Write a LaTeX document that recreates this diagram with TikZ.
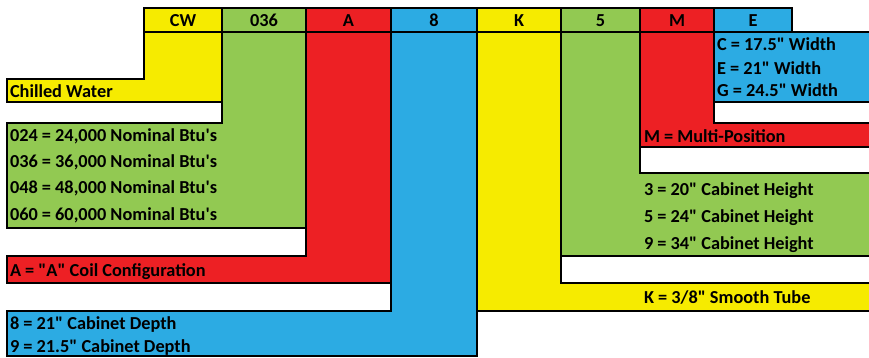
\documentclass[tikz,border=0pt]{standalone}
\usepackage{fontspec}
\setmainfont{Carlito}[Ligatures=TeXOff]
\usepackage{tikz}
\usetikzlibrary{positioning}
\definecolor{codeyellow}{RGB}{246,235,0}
\definecolor{codegreen}{RGB}{146,201,82}
\definecolor{codered}{RGB}{237,32,36}
\definecolor{codeblue}{RGB}{44,171,227}

\begin{document}
\begin{tikzpicture}[
    x=1pt, y=-1pt,
    every node/.style={font=\fontsize{18.3}{20}\selectfont\bfseries, inner sep=0pt, outer sep=0pt},
    band/.style={draw=black, line width=2.6pt, line join=miter},
    header/.style={rectangle, draw=black, line width=2.6pt, minimum height=24pt, text height=12.5pt, text depth=0pt},
    entry/.style={anchor=west, text height=12.5pt, text depth=0pt}
]
\useasboundingbox (0,0) rectangle (869,357);
\clip (0,0) rectangle (869,357);

% Left hand bands
\draw[band, fill=codeyellow] (144,32) -- (222,32) -- (222,102) -- (7,102) -- (7,79) -- (144,79) -- cycle;
\draw[band, fill=codegreen] (222,32) -- (306,32) -- (306,228) -- (7,228) -- (7,123) -- (222,123) -- cycle;
\draw[band, fill=codered] (306,32) -- (391,32) -- (391,283) -- (7,283) -- (7,256) -- (306,256) -- cycle;
\draw[band, fill=codeblue] (391,32) -- (477,32) -- (477,356) -- (7,356) -- (7,311) -- (391,311) -- cycle;

% Right hand bands
\draw[band, fill=codeyellow] (477,32) -- (561,32) -- (561,283) -- (880,283) -- (880,311) -- (477,311) -- cycle;
\draw[band, fill=codegreen] (561,32) -- (640,32) -- (640,173) -- (880,173) -- (880,256) -- (561,256) -- cycle;
\draw[band, fill=codered] (640,32) -- (714,32) -- (714,123) -- (880,123) -- (880,147) -- (640,147) -- cycle;
\draw[band, fill=codeblue] (714,32) rectangle (880,102);

% Model number header
\node[header, fill=codeyellow, minimum width=78pt, anchor=north west] (hdr_cw) at (144,8) {CW};
\node[header, fill=codegreen, minimum width=84pt, right=0pt of hdr_cw] (hdr_size) {036};
\node[header, fill=codered, minimum width=85pt, right=0pt of hdr_size] (hdr_coil) {A};
\node[header, fill=codeblue, minimum width=86pt, right=0pt of hdr_coil] (hdr_depth) {8};
\node[header, fill=codeyellow, minimum width=84pt, right=0pt of hdr_depth] (hdr_tube) {K};
\node[header, fill=codegreen, minimum width=79pt, right=0pt of hdr_tube] (hdr_height) {5};
\node[header, fill=codered, minimum width=74pt, right=0pt of hdr_height] (hdr_pos) {M};
\node[header, fill=codeblue, minimum width=78pt, right=0pt of hdr_pos] (hdr_width) {E};

% Left hand entries
\node[entry] (txt_cw) at (10,91) {Chilled Water};
\node[entry] (txt_024) at (10,135) {024 = 24,000 Nominal Btu's};
\node[entry] (txt_036) at (10,161) {036 = 36,000 Nominal Btu's};
\node[entry] (txt_048) at (10,187) {048 = 48,000 Nominal Btu's};
\node[entry] (txt_060) at (10,214) {060 = 60,000 Nominal Btu's};
\node[entry] (txt_coil) at (10,270) {A = "A" Coil Configuration};
\node[entry] (txt_depth8) at (10,323) {8 = 21" Cabinet Depth};
\node[entry] (txt_depth9) at (10,346) {9 = 21.5" Cabinet Depth};

% Right hand entries
\node[entry] (txt_wc) at (717,44) {C = 17.5" Width};
\node[entry] (txt_we) at (717,68) {E = 21" Width};
\node[entry] (txt_wg) at (717,90) {G = 24.5" Width};
\node[entry] (txt_pos) at (644,136) {M = Multi-Position};
\node[entry] (txt_h3) at (644,189) {3 = 20" Cabinet Height};
\node[entry] (txt_h5) at (644,216) {5 = 24" Cabinet Height};
\node[entry] (txt_h9) at (644,243) {9 = 34" Cabinet Height};
\node[entry] (txt_tube) at (644,297) {K = 3/8" Smooth Tube};

\end{tikzpicture}
\end{document}
